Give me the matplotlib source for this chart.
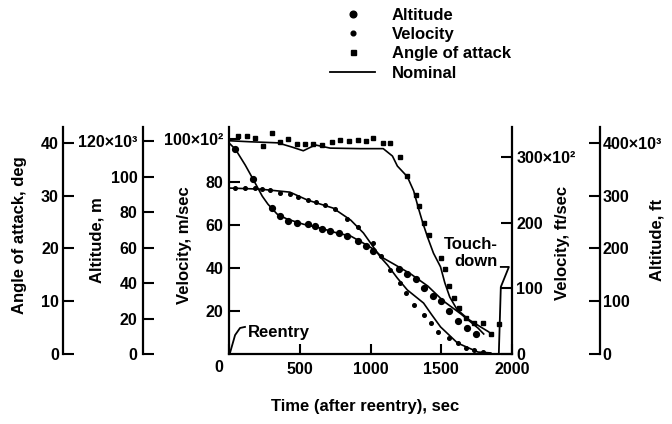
import matplotlib
matplotlib.use("Agg")
import matplotlib.pyplot as plt
import matplotlib.transforms as mtransforms
from matplotlib.lines import Line2D

# angle of attack, deg
aoa_nom_t = [0, 150, 345, 445, 525, 610, 715, 930, 1090, 1155, 1190, 1260, 1305, 1340,
             1370, 1405, 1445, 1495, 1525, 1560, 1610, 1690, 1780, 1835]
aoa_nom = [40.4, 40.2, 40.0, 39.2, 38.5, 39.6, 39.0, 38.9, 38.9, 37.5, 35.6, 33.6, 30.9, 27.5,
           24.8, 22.0, 19.1, 16.5, 13.5, 10.8, 8.5, 6.6, 5.1, 4.2]
aoa_t = [65, 130, 185, 240, 305, 360, 420, 480, 540, 595, 660, 730, 785, 845, 910, 965, 1020,
         1085, 1140, 1205, 1260, 1325, 1345, 1375, 1410, 1495, 1530, 1555, 1590, 1625, 1675,
         1730, 1795, 1850, 1905]
aoa = [41.3, 41.3, 40.9, 39.4, 41.9, 40.2, 40.8, 39.8, 39.8, 39.8, 39.6, 40.2, 40.6, 40.4, 40.6,
       40.4, 41.0, 40.0, 40.0, 37.3, 33.7, 30.1, 28.1, 24.8, 22.6, 18.2, 16.1, 12.9, 10.6, 8.7,
       6.8, 5.9, 5.9, 3.8, 5.7]

# velocity, m/sec x 10^2
vel_nom_t = [0, 220, 430, 555, 735, 860, 950, 1020, 1070, 1120, 1190, 1260, 1375, 1430,
             1495, 1615, 1760, 1850]
vel_nom = [77.2, 76.7, 75.3, 71.6, 67.9, 62.3, 56.3, 49.8, 45.1, 41.4, 35.3, 29.8, 23.7, 18.5,
           12.6, 5.1, 0.9, 0.5]
vel_t = [40, 110, 185, 235, 290, 360, 430, 490, 555, 615, 680, 750, 835, 910, 1015, 1075, 1140,
         1210, 1250, 1305, 1375, 1425, 1480, 1555, 1615, 1675, 1730, 1795]
vel = [77.2, 77.2, 77.2, 76.7, 76.3, 74.9, 74.4, 73.0, 71.6, 70.7, 69.3, 67.4, 62.8, 59.1,
       51.5, 45.5, 39.1, 33.0, 28.4, 22.8, 18.1, 14.4, 10.2, 7.4, 5.1, 2.8, 1.9, 0.9]

# altitude, m x 10^3
alt_nom_t = [0, 45, 115, 170, 235, 275, 340, 410, 525, 645, 765, 860, 950, 1020, 1090, 1165,
             1285, 1405, 1515, 1640, 1760, 1800]
alt_nom = [119, 115.5, 106.5, 98.6, 89.0, 84.5, 78.9, 76.1, 73.2, 71.0, 68.2, 66.5, 62.5, 59.2,
           54.1, 50.7, 45.1, 38.3, 29.9, 22.5, 14.6, 11.3]
alt_t = [45, 170, 305, 360, 420, 480, 555, 610, 660, 715, 775, 835, 910, 965, 1020, 1200, 1260,
         1320, 1375, 1440, 1495, 1555, 1615, 1680, 1745]
alt = [115.5, 98.6, 82.3, 77.7, 74.9, 73.8, 73.2, 72.1, 70.4, 69.3, 68.2, 66.5, 63.7, 60.8,
       58.0, 47.9, 45.1, 42.3, 37.2, 32.7, 29.9, 24.2, 18.6, 14.6, 11.3]

time_ticks = [0, 500, 1000, 1500, 2000]
vel_ms_ticks = [20, 40, 60, 80, 100]
vel_ms_labels = ["20", "40", "60", "80", "100×10²"]
vel_fts_ticks = [0, 100, 200, 300]
vel_fts_labels = ["0", "100", "200", "300×10²"]
alt_m_ticks = [0, 20, 40, 60, 80, 100, 120]
alt_m_labels = ["0", "20", "40", "60", "80", "100", "120×10³"]
alt_ft_ticks = [0, 100, 200, 300, 400]
alt_ft_labels = ["0", "100", "200", "300", "400×10³"]
aoa_ticks = [0, 10, 20, 30, 40]

# annotation leaders (time, velocity units)
reentry_t = [7, 43, 78, 113]
reentry_v = [0.5, 8.8, 12.1, 12.6]
touch_t = [1921, 1978, 1921, 1907]
touch_v = [40.5, 40.5, 31.2, 0.5]

plt.rcParams["font.family"] = ["Liberation Sans", "DejaVu Sans"]
plt.rcParams["font.weight"] = "bold"
plt.rcParams["axes.labelweight"] = "bold"
plt.rcParams["font.size"] = 12

fig = plt.figure(figsize=(6.72, 4.24), dpi=100)
ax = fig.add_axes([229 / 672, 70 / 424, 283 / 672, 227 / 424])

def px_x(px):
    return (px - 229) / 283

def px_y(py):
    return (354 - py) / 227

lw_sp = 1.6
tick_kw = dict(direction="in", length=8, width=1.5, labelsize=11.5)

ax.set_xlim(0, 2000)
ax.set_ylim(0, 105.6)
ax.spines["top"].set_visible(False)
ax.spines["right"].set_visible(False)
for s in ("left", "bottom"):
    ax.spines[s].set_linewidth(lw_sp)
ax.set_xticks(time_ticks)
ax.set_xticklabels([str(t) for t in time_ticks])
ax.set_yticks(vel_ms_ticks)
ax.set_yticklabels(vel_ms_labels)
ax.tick_params(axis="both", pad=4, **tick_kw)
ax.tick_params(axis="x", length=7, pad=6)
zero = ax.get_xticklabels()[0]
zero.set_transform(zero.get_transform() + mtransforms.ScaledTranslation(-10 / 100, 2 / 100, fig.dpi_scale_trans))
ax.set_xlabel("Time (after reentry), sec")
ax.xaxis.set_label_coords(px_x(365), px_y(407))
ax.xaxis.label.set_va("center")
ax.set_ylabel("Velocity, m/sec")
ax.yaxis.set_label_coords(px_x(185), px_y(245))
ax.yaxis.label.set_va("center")

# velocity ft/sec
ax_fts = ax.twinx()
ax_fts.set_ylim(0, 105.6 * 3.2808)
for s in ("left", "top", "bottom"):
    ax_fts.spines[s].set_visible(False)
ax_fts.spines["right"].set_linewidth(lw_sp)
ax_fts.set_yticks(vel_fts_ticks)
ax_fts.set_yticklabels(vel_fts_labels)
ax_fts.tick_params(axis="y", pad=3, **tick_kw)
ax_fts.set_ylabel("Velocity, ft/sec", rotation=90)
ax_fts.yaxis.set_label_coords(px_x(563), px_y(243))
ax_fts.yaxis.label.set_va("center")

# altitude ft
ax_aft = ax.twinx()
ax_aft.set_ylim(0, 430)
for s in ("left", "top", "bottom"):
    ax_aft.spines[s].set_visible(False)
ax_aft.spines["right"].set_position(("axes", px_x(600)))
ax_aft.spines["right"].set_linewidth(lw_sp)
ax_aft.set_yticks(alt_ft_ticks)
ax_aft.set_yticklabels(alt_ft_labels)
ax_aft.tick_params(axis="y", pad=2, **tick_kw)
ax_aft.set_ylabel("Altitude, ft", rotation=90)
ax_aft.yaxis.set_label_coords(px_x(657), px_y(240))
ax_aft.yaxis.label.set_va("center")

# altitude m
ax_am = ax.twinx()
ax_am.set_ylim(0, 128)
for s in ("right", "top", "bottom"):
    ax_am.spines[s].set_visible(False)
ax_am.spines["left"].set_visible(True)
ax_am.spines["left"].set_position(("axes", px_x(143)))
ax_am.spines["left"].set_linewidth(lw_sp)
ax_am.yaxis.tick_left()
ax_am.set_yticks(alt_m_ticks)
ax_am.set_yticklabels(alt_m_labels)
ax_am.tick_params(axis="y", pad=4, **tick_kw)
ax_am.set_ylabel("Altitude, m")
ax_am.yaxis.set_label_position("left")
ax_am.yaxis.set_label_coords(px_x(97), px_y(240))
ax_am.yaxis.label.set_va("center")

# angle of attack
ax_aoa = ax.twinx()
ax_aoa.set_ylim(0, 43)
for s in ("right", "top", "bottom"):
    ax_aoa.spines[s].set_visible(False)
ax_aoa.spines["left"].set_visible(True)
ax_aoa.spines["left"].set_position(("axes", px_x(63)))
ax_aoa.spines["left"].set_linewidth(lw_sp)
ax_aoa.yaxis.tick_left()
ax_aoa.set_yticks(aoa_ticks)
ax_aoa.set_yticklabels([str(a) for a in aoa_ticks])
ax_aoa.tick_params(axis="y", pad=3, **tick_kw)
ax_aoa.set_ylabel("Angle of attack, deg")
ax_aoa.yaxis.set_label_position("left")
ax_aoa.yaxis.set_label_coords(px_x(20), px_y(235))
ax_aoa.yaxis.label.set_va("center")

# data
ax_aoa.plot(aoa_nom_t, aoa_nom, color="black", lw=1.2)
ax_aoa.plot(aoa_t, aoa, ls="none", marker="s", ms=3.2, color="black")
ax.plot(vel_nom_t, vel_nom, color="black", lw=1.2)
ax.plot(vel_t, vel, ls="none", marker="o", ms=2.6, color="black")
ax_am.plot(alt_nom_t, alt_nom, color="black", lw=1.2)
ax_am.plot(alt_t, alt, ls="none", marker="o", ms=4.2, color="black")

# annotations
ax.plot(reentry_t, reentry_v, color="black", lw=1.3)
ax.text(135, 9.8, "Reentry", ha="left", va="center")
ax.plot(touch_t, touch_v, color="black", lw=1.3)
ax.text(1900, 47, "Touch-\ndown", ha="right", va="center",
        multialignment="right", linespacing=1.15)

handles = [
    Line2D([], [], ls="none", marker="o", ms=4.8, color="black"),
    Line2D([], [], ls="none", marker="o", ms=3.4, color="black"),
    Line2D([], [], ls="none", marker="s", ms=3.6, color="black"),
    Line2D([], [], color="black", lw=1.3),
]
labels = ["Altitude", "Velocity", "Angle of attack", "Nominal"]
fig.legend(handles, labels, loc="upper left", bbox_to_anchor=(330 / 672, 1 - 8 / 424),
           frameon=False, fontsize=12, handlelength=2.7, handletextpad=1.0,
           labelspacing=0.25, borderpad=0, borderaxespad=0)

fig.savefig("out.png", dpi=100)
